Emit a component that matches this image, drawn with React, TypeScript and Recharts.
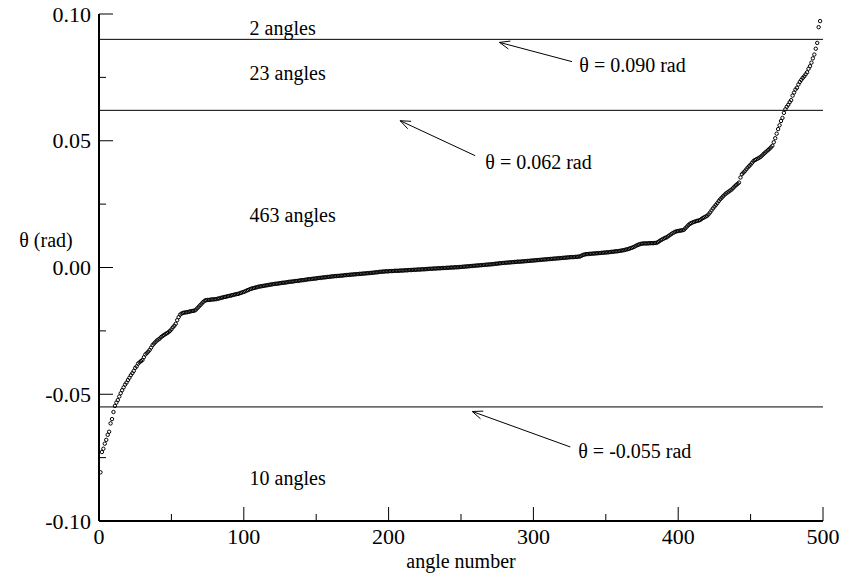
import React from 'react';
import { ScatterChart, Scatter, XAxis, YAxis, ReferenceLine, ReferenceDot } from 'recharts';

// sorted angles, in mrad (index 1..498)
const thetaMrad = [
  -80.8, -72.8, -71.5, -69.5, -68.0, -66.0, -64.8, -61.5, -59.8, -57.0,
  -54.6, -53.3, -52.3, -50.9, -49.6, -48.4, -47.3, -46.2, -45.4, -44.4,
  -43.5, -42.5, -41.7, -40.8, -39.6, -39.0, -37.9, -37.4, -36.9, -36.5,
  -35.4, -34.3, -33.8, -33.2, -32.5, -31.6, -30.6, -30.0, -29.4, -28.8,
  -28.4, -28.0, -27.4, -27.0, -26.6, -26.2, -25.9, -25.5, -25.0, -24.4,
  -23.6, -23.0, -22.2, -20.8, -19.6, -18.6, -18.2, -17.9, -17.8, -17.7,
  -17.6, -17.5, -17.3, -17.2, -17.1, -17.0, -16.6, -16.0, -15.4, -14.8,
  -14.2, -13.6, -13.1, -12.9, -12.8, -12.8, -12.7, -12.6, -12.6, -12.5,
  -12.5, -12.3, -12.2, -12.0, -11.9, -11.7, -11.6, -11.5, -11.3, -11.2,
  -11.1, -10.9, -10.8, -10.6, -10.5, -10.4, -10.2, -10.0, -9.8, -9.6,
  -9.4, -9.1, -8.9, -8.6, -8.4, -8.2, -8.1, -7.9, -7.8, -7.6,
  -7.5, -7.4, -7.3, -7.2, -7.1, -7.0, -6.9, -6.8, -6.7, -6.6,
  -6.5, -6.4, -6.4, -6.3, -6.2, -6.1, -6.0, -6.0, -5.9, -5.8,
  -5.7, -5.6, -5.6, -5.5, -5.4, -5.3, -5.3, -5.2, -5.1, -5.0,
  -5.0, -4.9, -4.8, -4.7, -4.6, -4.6, -4.5, -4.4, -4.4, -4.3,
  -4.2, -4.1, -4.1, -4.0, -3.9, -3.9, -3.8, -3.7, -3.7, -3.6,
  -3.5, -3.5, -3.4, -3.4, -3.3, -3.3, -3.2, -3.2, -3.1, -3.0,
  -3.0, -2.9, -2.9, -2.8, -2.8, -2.7, -2.7, -2.6, -2.6, -2.5,
  -2.5, -2.4, -2.4, -2.3, -2.3, -2.2, -2.2, -2.1, -2.1, -2.0,
  -1.9, -1.9, -1.8, -1.7, -1.7, -1.6, -1.6, -1.5, -1.5, -1.5,
  -1.4, -1.4, -1.4, -1.3, -1.3, -1.3, -1.3, -1.2, -1.2, -1.2,
  -1.1, -1.1, -1.1, -1.0, -1.0, -1.0, -0.9, -0.9, -0.9, -0.8,
  -0.8, -0.8, -0.7, -0.7, -0.7, -0.6, -0.6, -0.5, -0.5, -0.5,
  -0.4, -0.4, -0.4, -0.3, -0.3, -0.3, -0.2, -0.2, -0.2, -0.1,
  -0.1, -0.1, 0.0, 0.0, 0.0, 0.1, 0.1, 0.1, 0.2, 0.2,
  0.3, 0.3, 0.4, 0.4, 0.5, 0.5, 0.6, 0.6, 0.7, 0.7,
  0.8, 0.8, 0.9, 0.9, 1.0, 1.0, 1.1, 1.1, 1.2, 1.2,
  1.3, 1.3, 1.4, 1.5, 1.5, 1.6, 1.7, 1.7, 1.8, 1.8,
  1.9, 1.9, 2.0, 2.0, 2.1, 2.1, 2.2, 2.2, 2.3, 2.3,
  2.3, 2.4, 2.4, 2.5, 2.5, 2.6, 2.6, 2.7, 2.7, 2.8,
  2.8, 2.9, 2.9, 3.0, 3.0, 3.1, 3.1, 3.2, 3.2, 3.3,
  3.3, 3.4, 3.4, 3.5, 3.5, 3.6, 3.6, 3.7, 3.7, 3.8,
  3.8, 3.9, 3.9, 4.0, 4.0, 4.1, 4.1, 4.1, 4.2, 4.2,
  4.3, 4.3, 4.6, 4.9, 5.1, 5.2, 5.3, 5.3, 5.4, 5.4,
  5.5, 5.5, 5.6, 5.6, 5.7, 5.7, 5.8, 5.8, 5.9, 5.9,
  6.0, 6.0, 6.1, 6.2, 6.2, 6.3, 6.4, 6.4, 6.5, 6.6,
  6.7, 6.8, 6.9, 7.1, 7.2, 7.4, 7.6, 7.8, 8.0, 8.3,
  8.6, 8.9, 9.1, 9.3, 9.4, 9.5, 9.5, 9.5, 9.5, 9.6,
  9.6, 9.6, 9.6, 9.7, 9.7, 10.0, 10.4, 10.8, 11.1, 11.4,
  11.7, 11.9, 12.3, 12.7, 13.1, 13.5, 13.8, 14.1, 14.3, 14.4,
  14.5, 14.6, 14.7, 14.9, 15.5, 16.1, 16.7, 17.2, 17.5, 17.8,
  18.0, 18.2, 18.4, 18.5, 18.7, 19.1, 19.5, 19.8, 20.1, 20.4,
  21.0, 21.7, 22.5, 23.3, 24.0, 24.7, 25.4, 26.2, 26.9, 27.5,
  28.1, 28.7, 29.2, 29.6, 30.0, 30.4, 30.8, 31.4, 32.0, 32.5,
  33.0, 33.5, 35.5, 36.8, 37.4, 38.0, 38.7, 39.4, 40.0, 40.6,
  41.3, 42.0, 42.4, 42.7, 43.0, 43.3, 43.7, 44.2, 44.8, 45.3,
  45.8, 46.3, 46.8, 47.4, 48.0, 49.4, 51.0, 52.8, 54.6, 56.1,
  57.8, 59.0, 61.0, 62.4, 63.4, 64.2, 65.2, 66.0, 67.8, 69.0,
  70.2, 70.9, 72.2, 73.2, 74.0, 74.8, 75.4, 76.2, 77.0, 78.4,
  79.4, 80.8, 82.5, 84.0, 86.3, 88.6, 94.8, 97.2,
];

const xTicks = [0, 50, 100, 150, 200, 250, 300, 350, 400, 450, 500];
const xTickLabels = ['0', '', '100', '', '200', '', '300', '', '400', '', '500'];
const yTicks = [-0.1, -0.075, -0.05, -0.025, 0, 0.025, 0.05, 0.075, 0.1];
const yTickLabels = ['-0.10', '', '-0.05', '', '0.00', '', '0.05', '', '0.10'];

const thresholds = [0.09, 0.062, -0.055];
const thresholdLabels = ['θ = 0.090 rad', 'θ = 0.062 rad', 'θ = -0.055 rad'];
const regionLabels = ['2 angles', '23 angles', '463 angles', '10 angles'];

// annotation placement (data coords)
const regionX = 104;
const regionY = [0.0944, 0.0766, 0.0207, -0.083];
const arrowTails = [{ x: 326.7, y: 0.0812 }, { x: 259.8, y: 0.0441 }, { x: 325.5, y: -0.0708 }];
const arrowHeads = [{ x: 276.6, y: 0.0888 }, { x: 208, y: 0.0579 }, { x: 257.8, y: -0.0568 }];
const arrowTextPos = [{ x: 331.7, y: 0.0799 }, { x: 266.8, y: 0.0417 }, { x: 331, y: -0.0724 }];

const data = thetaMrad.map((v, i) => ({ n: i + 1, theta: v / 1000 }));

const W = 841;
const H = 574;
const FONT = '"Liberation Serif", "DejaVu Serif", Times, serif';
const MAJOR = 14;
const MINOR = 7;

const XTick = (props: any) => {
  const { x, y, payload, index, side } = props;
  const label = xTickLabels[index] ?? '';
  const len = label !== '' ? MAJOR : MINOR;
  const dir = side === 'top' ? 1 : -1;
  return (
    <g>
      <line x1={x} y1={y} x2={x} y2={y + dir * len} stroke="#000" strokeWidth={1} />
      {side !== 'top' && label !== '' && (
        <text x={x} y={y + 15} textAnchor="middle" dominantBaseline="central" fontSize={22} fontFamily={FONT} fill="#000">
          {label}
        </text>
      )}
    </g>
  );
};

const YTick = (props: any) => {
  const { x, y, index, side } = props;
  const label = yTickLabels[index] ?? '';
  const len = label !== '' ? MAJOR : MINOR;
  const dir = side === 'right' ? -1 : 1;
  return (
    <g>
      <line x1={x} y1={y} x2={x + dir * len} y2={y} stroke="#000" strokeWidth={1} />
      {side !== 'right' && label !== '' && (
        <text x={x - 8} y={y} textAnchor="end" dominantBaseline="central" fontSize={22} fontFamily={FONT} fill="#000">
          {label}
        </text>
      )}
    </g>
  );
};

const Dot = (props: any) => {
  const { cx, cy } = props;
  if (cx == null || cy == null) return <g />;
  return <circle cx={cx} cy={cy} r={1.7} fill="none" stroke="#000" strokeWidth={1} />;
};

const Arrow = (props: any) => {
  const { x1, y1, x2, y2 } = props;
  const a = Math.atan2(y1 - y2, x1 - x2);
  const L = 11;
  const s = 0.38;
  return (
    <g stroke="#000" strokeWidth={1} fill="none">
      <line x1={x1} y1={y1} x2={x2} y2={y2} />
      <line x1={x2} y1={y2} x2={x2 + L * Math.cos(a + s)} y2={y2 + L * Math.sin(a + s)} />
      <line x1={x2} y1={y2} x2={x2 + L * Math.cos(a - s)} y2={y2 + L * Math.sin(a - s)} />
    </g>
  );
};

const textAt = (label: string) => (props: any) => (
  <text x={props.cx} y={props.cy} textAnchor="start" dominantBaseline="central" fontSize={20} fontFamily={FONT} fill="#000">
    {label}
  </text>
);

export default function App() {
  return (
    <div style={{ position: 'absolute', left: 0, top: 0, background: '#fff' }}>
      <ScatterChart width={W} height={H} margin={{ top: 14, right: 18, bottom: 0, left: 0 }}>
        <XAxis
          xAxisId="main"
          dataKey="n"
          type="number"
          domain={[0, 500]}
          allowDataOverflow
          ticks={xTicks}
          interval={0}
          height={53}
          tickSize={0}
          tickMargin={0}
          tickLine={false}
          axisLine={{ stroke: '#000', strokeWidth: 2 }}
          tick={(p: any) => <XTick {...p} side="bottom" />}
          label={{
            content: (p: any) => (
              <text
                x={p.viewBox.x + p.viewBox.width / 2}
                y={p.viewBox.y + 40}
                textAnchor="middle"
                dominantBaseline="central"
                fontSize={20}
                fontFamily={FONT}
                fill="#000"
              >
                angle number
              </text>
            ),
          }}
        />
        <XAxis
          xAxisId="top"
          orientation="top"
          type="number"
          domain={[0, 500]}
          allowDataOverflow
          ticks={xTicks}
          interval={0}
          height={0}
          tickSize={0}
          tickMargin={0}
          tickLine={false}
          axisLine={{ stroke: '#000', strokeWidth: 2 }}
          tick={(p: any) => <XTick {...p} side="top" />}
        />
        <YAxis
          yAxisId="main"
          dataKey="theta"
          type="number"
          domain={[-0.1, 0.1]}
          allowDataOverflow
          ticks={yTicks}
          interval={0}
          width={99}
          tickSize={0}
          tickMargin={0}
          tickLine={false}
          axisLine={{ stroke: '#000', strokeWidth: 2 }}
          tick={(p: any) => <YTick {...p} side="left" />}
          label={{
            content: (p: any) => (
              <text
                x={p.viewBox.x + 46}
                y={p.viewBox.y + p.viewBox.height / 2 - 28}
                textAnchor="middle"
                dominantBaseline="central"
                fontSize={20}
                fontFamily={FONT}
                fill="#000"
              >
                θ (rad)
              </text>
            ),
          }}
        />
        <YAxis
          yAxisId="right"
          orientation="right"
          type="number"
          domain={[-0.1, 0.1]}
          allowDataOverflow
          ticks={yTicks}
          interval={0}
          width={0}
          tickSize={0}
          tickMargin={0}
          tickLine={false}
          axisLine={{ stroke: '#000', strokeWidth: 2 }}
          tick={(p: any) => <YTick {...p} side="right" />}
        />

        {thresholds.map((t) => (
          <ReferenceLine key={t} xAxisId="main" yAxisId="main" y={t} stroke="#000" strokeWidth={1} />
        ))}
        {thresholds.map((t, i) => (
          <ReferenceLine
            key={'arrow' + t}
            xAxisId="main"
            yAxisId="main"
            segment={[arrowTails[i], arrowHeads[i]]}
            shape={Arrow}
          />
        ))}
        {thresholdLabels.map((l, i) => (
          <ReferenceDot
            key={l}
            xAxisId="main"
            yAxisId="main"
            x={arrowTextPos[i].x}
            y={arrowTextPos[i].y}
            r={0}
            shape={textAt(l)}
          />
        ))}
        {regionLabels.map((l, i) => (
          <ReferenceDot key={l} xAxisId="main" yAxisId="main" x={regionX} y={regionY[i]} r={0} shape={textAt(l)} />
        ))}

        <Scatter
          data={data}
          dataKey="theta"
          xAxisId="main"
          yAxisId="main"
          isAnimationActive={false}
          shape={Dot}
        />
      </ScatterChart>
    </div>
  );
}
